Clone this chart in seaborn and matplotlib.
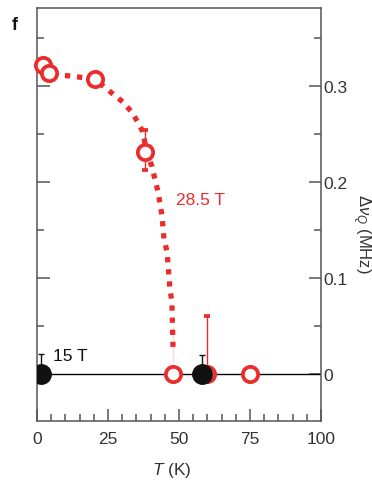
import numpy as np
import pandas as pd
import matplotlib
matplotlib.use("Agg")
import matplotlib.pyplot as plt
import seaborn as sns
from matplotlib.ticker import MultipleLocator

# red: 28.5 T data (open circles)
t_red = [2.0, 4.3, 20.4, 38.0, 48.0, 60.0, 75.0]
dq_red = [0.322, 0.3135, 0.307, 0.231, 0.0, 0.0, 0.0]
err_red_lo = [0.004, 0.004, 0.004, 0.019, 0.0, 0.0, 0.0]
err_red_hi = [0.004, 0.004, 0.004, 0.023, 0.0, 0.060, 0.0]

# black: 15 T data (filled circles)
t_blk = [1.5, 58.0]
dq_blk = [0.0, 0.0]
err_blk_hi = [0.021, 0.020]

# dotted guide line
t_guide = [2.0, 4.2, 12.3, 20.4, 25.7, 30.3, 33.8, 37.3, 38.7, 40.5, 41.5,
           42.6, 44.0, 44.7, 45.8, 46.8, 47.5, 47.9, 47.9, 47.9]
dq_guide = [0.318, 0.3125, 0.310, 0.307, 0.294, 0.283, 0.271, 0.252, 0.229,
            0.216, 0.203, 0.190, 0.165, 0.141, 0.127, 0.089, 0.075, 0.049,
            0.023, 0.0125]

RED = "#ec2b2b"
TXT = "#333333"
SPINE = "#555555"

sns.set_theme(style="ticks")
plt.rcParams["font.family"] = ["Liberation Sans", "DejaVu Sans"]
plt.rcParams["mathtext.fontset"] = "custom"
plt.rcParams["mathtext.rm"] = "Liberation Sans"
plt.rcParams["mathtext.it"] = "Liberation Sans:italic"

fig = plt.figure(figsize=(3.72, 4.85), dpi=100)
ax = fig.add_axes([37 / 372, 1 - 422 / 485, 284 / 372, 413 / 485])

guide = pd.DataFrame({"T": t_guide, "dq": dq_guide})
sns.lineplot(data=guide, x="T", y="dq", sort=False, ax=ax, color=RED,
             lw=3.8, linestyle=(0, (1, 1.3)), zorder=2)

ax.axhline(0, color="black", lw=1.0, zorder=2.5)

ax.errorbar(t_red, dq_red, yerr=[err_red_lo, err_red_hi], fmt="o", ms=11,
            mfc="white", mec=RED, mew=2.7, ecolor=RED, elinewidth=1.0,
            capsize=2.5, capthick=1.0, zorder=3, clip_on=False)
ax.errorbar(t_blk, dq_blk, yerr=[[0, 0], err_blk_hi], fmt="o", ms=14,
            mfc="#111111", mec="#111111", ecolor="#111111", elinewidth=1.0,
            capsize=2.5, capthick=1.0, zorder=4)

ax.set_xlim(0, 100)
ax.set_ylim(-0.049, 0.381)
ax.xaxis.set_major_locator(MultipleLocator(25))
ax.xaxis.set_minor_locator(MultipleLocator(5))
ax.yaxis.set_major_locator(MultipleLocator(0.1))
ax.yaxis.set_minor_locator(MultipleLocator(0.05))
ax.yaxis.set_major_formatter(plt.FuncFormatter(lambda v, p: "0" if abs(v) < 1e-9 else f"{v:.1f}"))

ax.tick_params(axis="both", which="both", direction="in", color=SPINE,
               width=1.1, labelsize=12.5, labelcolor=TXT)
ax.tick_params(axis="both", which="major", length=9)
ax.tick_params(axis="both", which="minor", length=5)
ax.tick_params(axis="x", which="both", top=False, pad=7.5)
ax.tick_params(axis="y", which="both", left=True, right=True,
               labelleft=False, labelright=True, pad=1.5)

for s in ax.spines.values():
    s.set_color(SPINE)
    s.set_linewidth(1.1)

ax.set_xlabel(r"$\it{T}$ (K)", fontsize=12.5, color=TXT, va="center")
ax.xaxis.set_label_coords((172 - 37) / 284, -(471 - 422) / 413)
ax.set_ylabel("")

fig.text(361 / 372, 1 - 234 / 485, r"$\Delta\nu_Q$ (MHz)", rotation=270,
         ha="center", va="center", fontsize=12, color=TXT)

ax.text(49, 0.182, "28.5 T", color=RED, fontsize=12.5, va="center", ha="left")
ax.text(5.6, 0.019, "15 T", color="#111111", fontsize=12.5, va="center", ha="left")
fig.text(15 / 372, 1 - 25 / 485, "f", fontsize=13, fontweight="bold",
         color="#111111", ha="center", va="center")

fig.savefig("out.png", dpi=100)
